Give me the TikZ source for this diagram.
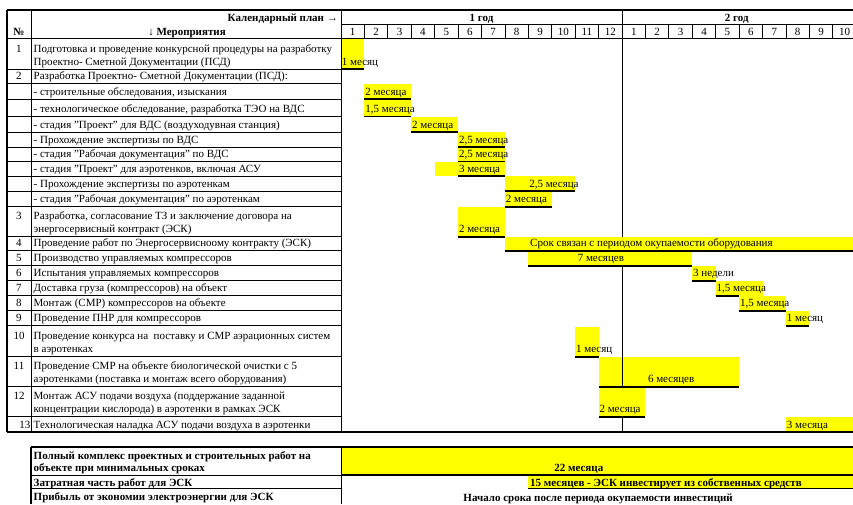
\documentclass[tikz,border=0pt]{standalone}
\usepackage{fontspec}
\setmainfont{Liberation Serif}
\definecolor{barfill}{RGB}{255,255,0}
\tikzset{
  txt/.style={anchor=base west,inner sep=0pt,font=\fontsize{11}{13}\selectfont},
  num/.style={anchor=base,inner sep=0pt,font=\fontsize{11}{13}\selectfont},
  hdr/.style={anchor=base,inner sep=0pt,font=\fontsize{11}{13}\selectfont\bfseries},
  bar/.style={fill=barfill},
  rule/.style={line width=1.8pt},
  thin/.style={line width=0.8pt},
  frame/.style={line width=1.8pt}
}
\begin{document}
\begin{tikzpicture}[x=1pt,y=-1pt]
	\useasboundingbox (0,0) rectangle (853,504);
	\clip (0,0) rectangle (853,504);
	\begin{scope}[shift={(341,0)},x=23.42pt]
		\fill[bar] (0,38.5) rectangle (1,69);
		\fill[bar] (1,83.5) rectangle (3,99);
		\fill[bar] (1,99) rectangle (3,116.5);
		\fill[bar] (3,116.5) rectangle (5,132);
		\fill[bar] (5,132) rectangle (7,147);
		\fill[bar] (5,147) rectangle (7,161.5);
		\fill[bar] (4,161.5) rectangle (7,176);
		\fill[bar] (7,176) rectangle (10,191);
		\fill[bar] (7,191) rectangle (9,206.7);
		\fill[bar] (5,206.7) rectangle (7,236.7);
		\fill[bar] (7,236.7) rectangle (22,250.7);
		\fill[bar] (8,250.7) rectangle (15,265.7);
		\fill[bar] (15,265.7) rectangle (16,280.7);
		\fill[bar] (16,280.7) rectangle (18,295.7);
		\fill[bar] (17,295.7) rectangle (19,310.7);
		\fill[bar] (19,310.7) rectangle (20,325.7);
		\fill[bar] (10,327) rectangle (11,356.7);
		\fill[bar] (11,356.7) rectangle (17,386.7);
		\fill[bar] (11,386.7) rectangle (13,416.7);
		\fill[bar] (19,416.7) rectangle (22,432);
		\fill[bar] (0,447) rectangle (22,475);
		\fill[bar] (8,475) rectangle (22,488.5);
	\end{scope}
	% main table
	\draw[frame] (7,10) -- (853,10);
	\draw[frame] (7,10) -- (7,432);
	\draw[frame] (7,432) -- (853,432);
	\draw[thin] (31,10) -- (31,432);
	\draw[thin] (341,10) -- (341,432);
	\draw[thin] (341,24) -- (853,24);
	\draw[thin] (7,38.5) -- (853,38.5);
	\foreach \y in {69,83.5,99,116.5,132,147,161.5,176,191,206.7,236.7,250.7,265.7,280.7,295.7,310.7,325.7,356.7,386.7,416.7}
		\draw[thin] (7,\y) -- (341,\y);
	\begin{scope}[shift={(341,0)},x=23.42pt]
		\foreach \k in {1,...,21}
			\draw[thin] (\k,24) -- (\k,38.5);
		\draw[thin] (12,10) -- (12,236.7);
		\draw[thin] (12,265.7) -- (12,386.7);
		\draw[thin] (12,416.7) -- (12,432);
		\foreach \k in {1,...,12}
			\node[num] (m\k) at (\k-0.5,35) {\k};
		\foreach \k in {1,...,10}
			\node[num] (n\k) at (\k+11.5,35) {\k};
		\draw[rule] (0,69) -- (1,69);
		\draw[rule] (1,99) -- (3,99);
		\draw[rule] (1,116.5) -- (3,116.5);
		\draw[rule] (3,132) -- (5,132);
		\draw[rule] (5,147) -- (7,147);
		\draw[rule] (5,161.5) -- (7,161.5);
		\draw[rule] (5,176) -- (7,176);
		\draw[rule] (7,191) -- (10,191);
		\draw[rule] (7,206.7) -- (9,206.7);
		\draw[rule] (5,236.7) -- (7,236.7);
		\draw[rule] (7,250.7) -- (22,250.7);
		\draw[rule] (8,265.7) -- (15,265.7);
		\draw[rule] (15,280.7) -- (16,280.7);
		\draw[rule] (16,295.7) -- (17,295.7);
		\draw[rule] (17,310.7) -- (19,310.7);
		\draw[rule] (19,325.7) -- (20,325.7);
		\draw[rule] (10,356.7) -- (11,356.7);
		\draw[rule] (11,386.7) -- (17,386.7);
		\draw[rule] (11,416.7) -- (13,416.7);
		\draw[rule] (0,475) -- (22,475);
		\draw[rule] (8,488.5) -- (22,488.5);
		\node[txt] (d1) at (0.03,65) {1 месяц};
		\node[txt] (d2) at (1.03,95) {2 месяца};
		\node[txt] (d3) at (1.03,112.5) {1,5 месяца};
		\node[txt] (d4) at (3.03,128) {2 месяца};
		\node[txt] (d5) at (5.03,143) {2,5 месяца};
		\node[txt] (d6) at (5.03,157.5) {2,5 месяца};
		\node[txt] (d7) at (5.03,172) {3 месяца};
		\node[txt] (d8) at (8.03,187) {2,5 месяца};
		\node[txt] (d9) at (7.03,202.7) {2 месяца};
		\node[txt] (d10) at (5.03,232.7) {2 месяца};
		\node[txt] (d11) at (8.07,246.7) {Срок связан с периодом окупаемости оборудования};
		\node[txt] (d12) at (10.1,261.7) {7 месяцев};
		\node[txt] (d13) at (15.03,276.7) {3 недели};
		\node[txt] (d14) at (16.03,291.7) {1,5 месяца};
		\node[txt] (d15) at (17.03,306.7) {1,5 месяца};
		\node[txt] (d16) at (19.03,321.7) {1 месяц};
		\node[txt] (d17) at (10.03,352.7) {1 месяц};
		\node[txt] (d18) at (13.1,382.7) {6 месяцев};
		\node[txt] (d19) at (11.03,412.7) {2 месяца};
		\node[txt] (d20) at (19.03,428) {3 месяца};
		\node[hdr,anchor=base west] (e1) at (9.1,471.5) {22 месяца};
		\node[hdr,anchor=base west] (e2) at (8.07,486.5) {15 месяцев - ЭСК инвестирует из собственных средств};
		\node[hdr,anchor=base west] (e3) at (5.22,501) {Начало срока после периода окупаемости инвестиций};
	\end{scope}
	\node[hdr,anchor=base east] (plan) at (338,21) {Календарный план →};
	\node[hdr] (events) at (187,35) {↓ Мероприятия};
	\node[hdr] (nohdr) at (19,35) {№};
	\node[hdr] (year1) at (481.5,21) {1 год};
	\node[hdr] (year2) at (736.7,21) {2 год};
	% rows
	\node[num] (k1) at (19,52) {1};
	\node[txt] (t1a) at (33.5,52) {Подготовка и проведение конкурсной процедуры на разработку};
	\node[txt] (t1b) at (33.5,65) {Проектно- Сметной Документации (ПСД)};
	\node[num] (k2) at (19,79.5) {2};
	\node[txt] (t2) at (33.5,79.5) {Разработка Проектно- Сметной Документации (ПСД):};
	\node[txt] (s1) at (33.5,95) {- строительные обследования, изыскания};
	\node[txt] (s2) at (33.5,112.5) {- технологическое обследование, разработка ТЭО на ВДС};
	\node[txt] (s3) at (33.5,128) {- стадия "Проект" для ВДС (воздуходувная станция)};
	\node[txt] (s4) at (33.5,143) {- Прохождение экспертизы по ВДС};
	\node[txt] (s5) at (33.5,157.5) {- стадия "Рабочая документация" по ВДС};
	\node[txt] (s6) at (33.5,172) {- стадия "Проект" для аэротенков, включая АСУ};
	\node[txt] (s7) at (33.5,187) {- Прохождение экспертизы по аэротенкам};
	\node[txt] (s8) at (33.5,202.7) {- стадия "Рабочая документация" по аэротенкам};
	\node[num] (k3) at (19,219.7) {3};
	\node[txt] (t3a) at (33.5,219.7) {Разработка, согласование ТЗ и заключение договора на};
	\node[txt] (t3b) at (33.5,232.7) {энергосервисный контракт (ЭСК)};
	\node[num] (k4) at (19,246.7) {4};
	\node[txt] (t4) at (33.5,246.7) {Проведение работ по Энергосервисноому контракту (ЭСК)};
	\node[num] (k5) at (19,261.7) {5};
	\node[txt] (t5) at (33.5,261.7) {Производство управляемых компрессоров};
	\node[num] (k6) at (19,276.7) {6};
	\node[txt] (t6) at (33.5,276.7) {Испытания управляемых компрессоров};
	\node[num] (k7) at (19,291.7) {7};
	\node[txt] (t7) at (33.5,291.7) {Доставка груза (компрессоров) на объект};
	\node[num] (k8) at (19,306.7) {8};
	\node[txt] (t8) at (33.5,306.7) {Монтаж (СМР) компрессоров на объекте};
	\node[num] (k9) at (19,321.7) {9};
	\node[txt] (t9) at (33.5,321.7) {Проведение ПНР для компрессоров};
	\node[num] (k10) at (19,339.7) {10};
	\node[txt] (t10a) at (33.5,339.7) {Проведение конкурса на \ поставку и СМР аэрационных систем};
	\node[txt] (t10b) at (33.5,352.7) {в аэротенках};
	\node[num] (k11) at (19,369.7) {11};
	\node[txt] (t11a) at (33.5,369.7) {Проведение СМР на объекте биологической очистки с 5};
	\node[txt] (t11b) at (33.5,382.7) {аэротенками (поставка и монтаж всего оборудования)};
	\node[num] (k12) at (19,399.7) {12};
	\node[txt] (t12a) at (33.5,399.7) {Монтаж АСУ подачи воздуха (поддержание заданной};
	\node[txt] (t12b) at (33.5,412.7) {концентрации кислорода) в аэротенки в рамках ЭСК};
	\node[num,anchor=base east] (k13) at (30.5,428) {13};
	\node[txt] (t13) at (33.5,428) {Технологическая наладка АСУ подачи воздуха в аэротенки};
	% summary table
	\draw[frame] (31,447) -- (853,447);
	\draw[frame] (31,447) -- (31,504);
	\draw[thin] (341,447) -- (341,504);
	\draw[thin] (31,475) -- (341,475);
	\draw[thin] (31,488.5) -- (341,488.5);
	\node[hdr,anchor=base west] (f1a) at (33.5,459.5) {Полный комплекс проектных и строительных работ на};
	\node[hdr,anchor=base west] (f1b) at (33.5,471.5) {объекте при минимальных сроках};
	\node[hdr,anchor=base west] (f2) at (33.5,486.5) {Затратная часть работ для ЭСК};
	\node[hdr,anchor=base west] (f3) at (33.5,500.5) {Прибыль от экономии электроэнергии для ЭСК};
\end{tikzpicture}
\end{document}
